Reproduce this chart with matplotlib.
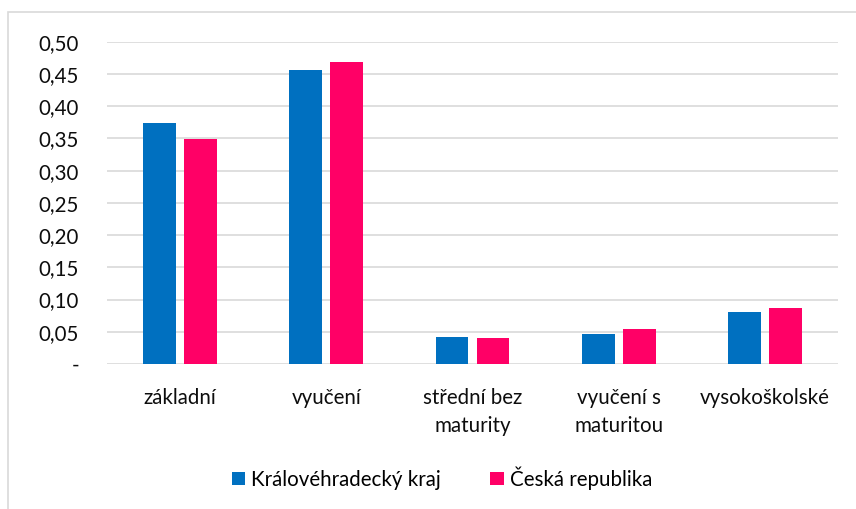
import matplotlib.pyplot as plt
import numpy as np
from matplotlib.patches import Rectangle

plt.rcParams['font.family'] = ['Lato', 'DejaVu Sans']

categories = ["základní", "vyučení", "střední bez\nmaturity", "vyučení s\nmaturitou", "vysokoškolské"]
kraj = [0.374, 0.456, 0.042, 0.046, 0.081]
cr = [0.349, 0.468, 0.040, 0.054, 0.087]
series_names = ["Královéhradecký kraj", "Česká republika"]
yticks = [0, 0.05, 0.10, 0.15, 0.20, 0.25, 0.30, 0.35, 0.40, 0.45, 0.50]
ytick_labels = ["-", "0,05", "0,10", "0,15", "0,20", "0,25", "0,30", "0,35", "0,40", "0,45", "0,50"]

W, H = 856, 509
fig = plt.figure(figsize=(W / 100, H / 100), dpi=100)
ax = fig.add_axes([107 / W, 1 - 364 / H, (838 - 107) / W, (364 - 41.7) / H])

# outer frame of the chart
fig.patches.append(Rectangle((8 / W, -0.01), 1.0, 1 - 12 / H + 0.01, transform=fig.transFigure,
                             fill=False, edgecolor="#d9d9d9", linewidth=1.2))

x = np.arange(len(categories))
w = 0.225
off = 0.14
ax.bar(x - off, kraj, w, color="#0070C0", label=series_names[0], zorder=3)
ax.bar(x + off, cr, w, color="#FF0066", label=series_names[1], zorder=3)

fs = 14.8
ax.set_xlim(-0.5, len(categories) - 0.5)
ax.set_ylim(0, 0.5)
ax.set_yticks(yticks)
ax.set_yticklabels(ytick_labels)
ax.set_xticks(x)
ax.set_xticklabels(categories, linespacing=1.55)
ax.tick_params(axis="both", length=0, labelsize=fs, colors="#0d0d0d")
ax.tick_params(axis="y", pad=20)
ax.tick_params(axis="x", pad=17)
ax.grid(axis="y", color="#d9d9d9", linewidth=1.2, zorder=0)
for s in ax.spines.values():
    s.set_visible(False)

fig.legend(loc="center", bbox_to_anchor=(442 / W, 1 - 478 / H), ncol=2, frameon=False,
           fontsize=fs, handlelength=0.65, handleheight=0.65, handletextpad=0.3, columnspacing=2.4)

fig.savefig("out.png", dpi=100)
